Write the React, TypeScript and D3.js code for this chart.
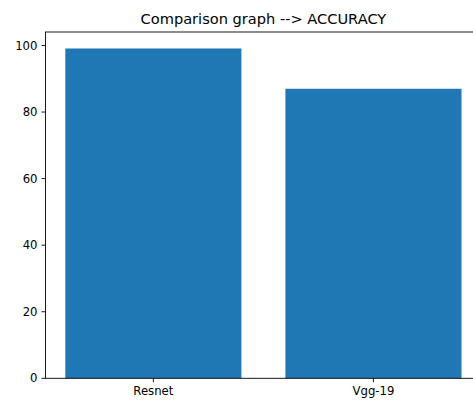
import React from "react";
import * as d3 from "d3";

const categories = ["Resnet", "Vgg-19"];
const accuracy = [99.1, 87.0];
const yTicks = [0, 20, 40, 60, 80, 100];
const title = "Comparison graph --> ACCURACY";

export default function App() {
  const W = 473, H = 400;
  const left = 45.5, top = 32, bottom = 378.3, right = 481.3;
  const yMax = d3.max(accuracy)! * 1.05;
  const y = d3.scaleLinear().domain([0, yMax]).range([bottom, top]);
  const x = d3.scaleLinear().domain([-0.49, categories.length - 1 + 0.49]).range([left, right]);
  const bw = x(0.8) - x(0);
  const font = "DejaVu Sans, sans-serif";
  return (
    <svg width={W} height={H} style={{ position: "absolute", left: 0, top: 0, background: "#fff" }}>
      <rect x={0} y={0} width={W} height={H} fill="#fff" />
      {accuracy.map((v, i) => (
        <rect key={i} x={x(i) - bw / 2} y={y(v)} width={bw} height={y(0) - y(v)} fill="#1f77b4" />
      ))}
      <rect x={left} y={top} width={right - left} height={bottom - top} fill="none" stroke="#000" strokeWidth={0.9} />
      {yTicks.map((t) => (
        <g key={t}>
          <line x1={left - 4} x2={left} y1={y(t)} y2={y(t)} stroke="#000" strokeWidth={0.9} />
          <text x={left - 8} y={y(t)} dy="0.35em" textAnchor="end" fontFamily={font} fontSize={11.7} fill="#000">
            {t}
          </text>
        </g>
      ))}
      {categories.map((c, i) => (
        <g key={c}>
          <line x1={x(i)} x2={x(i)} y1={bottom} y2={bottom + 4} stroke="#000" strokeWidth={0.9} />
          <text x={x(i)} y={bottom + 8} dy="0.76em" textAnchor="middle" fontFamily={font} fontSize={11.7} fill="#000">
            {c}
          </text>
        </g>
      ))}
      <text x={(left + right) / 2} y={top - 8} textAnchor="middle" fontFamily={font} fontSize={14.6} fill="#000">
        {title}
      </text>
    </svg>
  );
}
